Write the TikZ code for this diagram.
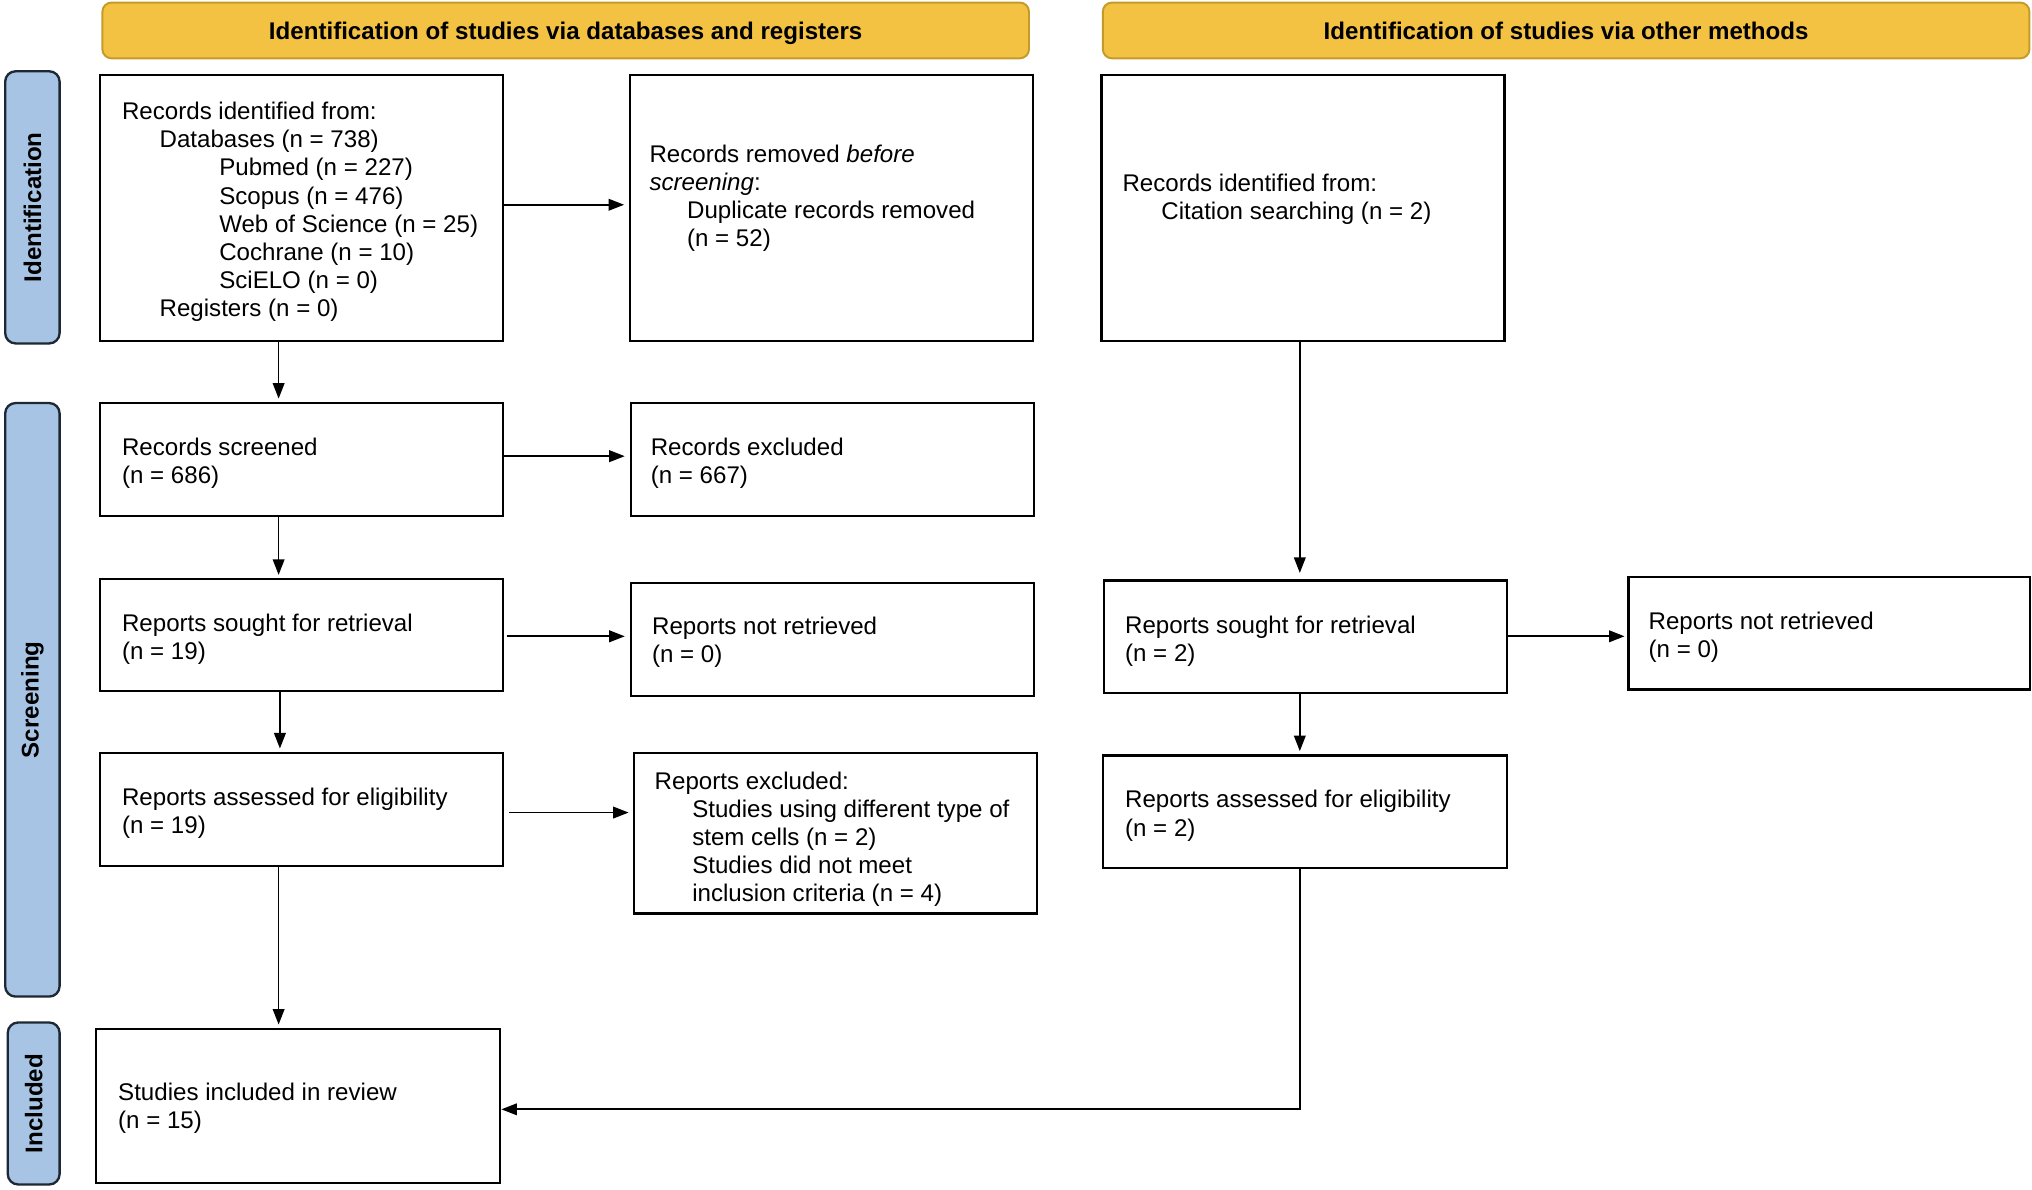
\documentclass[tikz,border=0pt]{standalone}
\usepackage{fontspec}
\setmainfont{Liberation Sans}
\usetikzlibrary{arrows.meta,calc}
\definecolor{hdrfill}{RGB}{243,194,67}
\definecolor{hdrline}{RGB}{196,155,40}
\definecolor{sidefill}{RGB}{168,196,228}
\definecolor{sideline}{RGB}{30,40,52}
\begin{document}
\begin{tikzpicture}[x=1pt,y=-1pt,
  every node/.style={font=\fontsize{18.6}{21.7}\selectfont},
  box/.style={draw, line width=1.8pt, inner sep=0pt, rectangle},
  txt/.style={anchor=west, align=left, inner sep=0pt, yshift=-2.5pt},
  hdr/.style={draw=hdrline, fill=hdrfill, line width=1.5pt, rounded corners=7pt,
    font=\fontsize{18.6}{21.7}\selectfont\bfseries, minimum width=715pt, minimum height=43pt,
    inner sep=0pt, text height=13.6pt, text depth=0pt},
  side/.style={draw=sideline, fill=sidefill, line width=1.8pt, rounded corners=8pt, rotate=90,
    font=\fontsize{18.6}{21.7}\selectfont\bfseries, inner sep=0pt},
  arr/.style={line width=1.3pt, shorten >=2.5pt, -{Triangle[length=12pt,width=9pt]}}
]
\useasboundingbox (0,0) rectangle (1568,918);

% headers
\node[hdr] (h1) at (436.5,23.5) {Identification of studies via databases and registers};
\node[hdr] (h2) at (1208.5,23.5) {Identification of studies via other methods};

% side labels
\node[side, minimum width=210pt, minimum height=42pt] (s1) at (25,160) {Identification};
\node[side, minimum width=458pt, minimum height=42pt] (s2) at (25,540) {Screening};
\node[side, minimum width=125pt, minimum height=40pt] (s3) at (26,851.5) {Included};

% boxes
\node[box, minimum width=311pt, minimum height=205pt] (a1) at (232.5,160.5) {};
\node[box, minimum width=311pt, minimum height=205pt] (a2) at (641.5,160.5) {};
\node[box, minimum width=311pt, minimum height=205pt] (b1) at (1005.5,160.5) {};
\node[box, minimum width=311pt, minimum height=87pt] (scr) at (232.5,354.5) {};
\node[box, minimum width=311pt, minimum height=87pt] (exc) at (642.5,354.5) {};
\node[box, minimum width=311pt, minimum height=86pt] (sL) at (232.5,490) {};
\node[box, minimum width=311pt, minimum height=87pt] (nrL) at (642.5,493.5) {};
\node[box, minimum width=311pt, minimum height=87pt] (sR) at (1007.5,491.5) {};
\node[box, minimum width=310pt, minimum height=87pt] (nrR) at (1411.5,488.5) {};
\node[box, minimum width=311pt, minimum height=87pt] (aL) at (232.5,624.5) {};
\node[box, minimum width=311pt, minimum height=124pt] (exR) at (644.5,643) {};
\node[box, minimum width=312pt, minimum height=87pt] (aR) at (1007,626.5) {};
\node[box, minimum width=312pt, minimum height=119pt] (inc) at (230,853.5) {};

% texts
\node[txt] (a1t) at (94,161) {Records identified from:\\
\hspace*{29pt}Databases (n = 738)\\
\hspace*{75pt}Pubmed (n = 227)\\
\hspace*{75pt}Scopus (n = 476)\\
\hspace*{75pt}Web of Science (n = 25)\\
\hspace*{75pt}Cochrane (n = 10)\\
\hspace*{75pt}SciELO (n = 0)\\
\hspace*{29pt}Registers (n = 0)};
\node[txt] (a2t) at (501,150.5) {Records removed \textit{before}\\
\textit{screening}:\\
\hspace*{29pt}Duplicate records removed\\
\hspace*{29pt}(n = 52)};
\node[txt] (b1t) at (866,151) {Records identified from:\\
\hspace*{30pt}Citation searching (n = 2)};
\node[txt] (scrt) at (94,355) {Records screened\\(n = 686)};
\node[txt] (exct) at (502,355) {Records excluded\\(n = 667)};
\node[txt] (sLt) at (94,490.5) {Reports sought for retrieval\\(n = 19)};
\node[txt] (nrLt) at (503,493) {Reports not retrieved\\(n = 0)};
\node[txt] (sRt) at (868,492) {Reports sought for retrieval\\(n = 2)};
\node[txt] (nrRt) at (1272,489) {Reports not retrieved\\(n = 0)};
\node[txt] (aLt) at (94,625) {Reports assessed for eligibility\\(n = 19)};
\node[txt] (exRt) at (505,645) {Reports excluded:\\
\hspace*{29pt}Studies using different type of\\
\hspace*{29pt}stem cells (n = 2)\\
\hspace*{29pt}Studies did not meet\\
\hspace*{29pt}inclusion criteria (n = 4)};
\node[txt] (aRt) at (868,627) {Reports assessed for eligibility\\(n = 2)};
\node[txt] (inct) at (91,853) {Studies included in review\\(n = 15)};

% vertical arrows
\coordinate (v1) at ([xshift=-17.5pt]a1.south);
\draw[arr] (v1) -- (v1 |- scr.north);
\coordinate (v2) at ([xshift=-17.5pt]scr.south);
\draw[arr] (v2) -- (v2 |- sL.north);
\coordinate (v3) at ([xshift=-16.5pt]sL.south);
\draw[arr] (v3) -- (v3 |- aL.north);
\coordinate (v4) at ([xshift=-17.5pt]aL.south);
\draw[arr] (v4) -- (v4 |- inc.north);
\coordinate (v5) at ([xshift=-2.5pt]b1.south);
\draw[arr, shorten >=5pt] (v5) -- (v5 |- sR.north);
\coordinate (v6) at ([xshift=-4.5pt]sR.south);
\draw[arr] (v6) -- (v6 |- aR.north);
\coordinate (v7) at ([xshift=-4pt]aR.south);
\draw[arr, shorten >=0pt] (v7) |- ([yshift=-2.5pt]inc.east);

% horizontal arrows
\coordinate (p1) at ([yshift=2.5pt]a1.east);
\draw[arr, shorten >=3.5pt] (p1) -- (p1 -| a2.west);
\coordinate (p2) at ([yshift=2.5pt]scr.east);
\draw[arr, shorten >=4pt] (p2) -- (p2 -| exc.west);
\coordinate (p3) at ([yshift=-1pt]sL.east);
\draw[arr, shorten <=2pt, shorten >=4pt] (p3) -- (p3 -| nrL.west);
\coordinate (p4) at ([yshift=-2.5pt]aL.east);
\draw[arr, shorten <=4pt, shorten >=3pt] (p4) -- (p4 -| exR.west);
\coordinate (p5) at ([yshift=0.5pt]sR.east);
\draw[arr, shorten >=2pt] (p5) -- (p5 -| nrR.west);
\end{tikzpicture}
\end{document}
